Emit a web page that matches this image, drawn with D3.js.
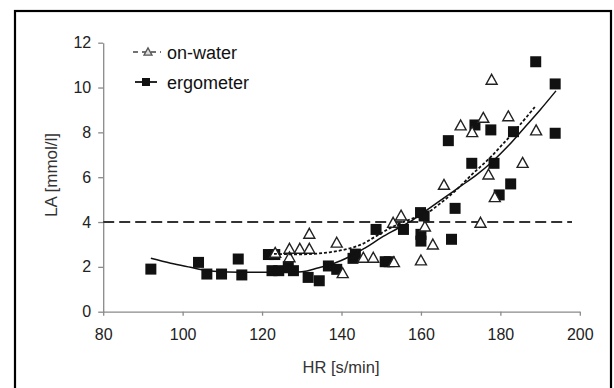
<!DOCTYPE html>
<html>
<head>
<meta charset="utf-8">
<script src="https://cdn.jsdelivr.net/npm/d3@7"></script>
<style>
html,body{margin:0;padding:0;background:#fff;}
svg{display:block;}
text{font-family:"Liberation Sans",Arial,sans-serif;}
</style>
</head>
<body>
<svg id="chart" width="614" height="388"></svg>
<script>
// ---- data ----
const xTicks = [80, 100, 120, 140, 160, 180, 200];
const yTicks = [0, 2, 4, 6, 8, 10, 12];
const threshold = 4;

const ergoHR = [92.0,104.0,106.1,109.8,114.0,114.9,121.6,123.2,122.5,124.2,126.6,127.9,131.6,134.4,136.7,138.8,142.9,143.5,148.7,151.0,152.0,155.6,159.9,160.8,160.0,160.0,166.9,167.7,168.6,172.8,173.6,177.6,178.4,179.7,182.6,183.3,188.9,193.8,193.8];
const ergoLA = [1.90,2.20,1.68,1.68,2.35,1.64,2.55,2.55,1.83,1.83,2.01,1.83,1.53,1.38,2.04,1.89,2.38,2.57,3.67,2.23,2.23,3.67,4.42,4.27,3.45,3.15,7.63,3.23,4.61,6.62,8.33,8.11,6.62,5.21,5.70,8.03,11.15,10.16,7.96];

const waterHR = [123.3,126.9,126.9,129.5,131.9,131.9,138.8,140.3,145.5,148.0,153.0,153.2,155.0,160.0,161.0,163.0,165.8,170.0,172.9,175.0,175.7,177.0,177.8,178.6,182.0,185.6,189.0];
const waterLA = [2.65,2.83,2.45,2.83,2.83,3.50,3.10,1.74,2.43,2.43,3.99,2.23,4.31,2.31,3.82,3.02,5.68,8.33,8.03,3.99,8.67,6.14,10.37,5.13,8.74,6.66,8.11];

// trend lines
const ergoFitHR = [92,97,102,106,110,120,130,134,138,142,146,150,154,158,162,166,170,174,178,182,186,190,194];
const ergoFitLA = [2.38,2.16,1.98,1.84,1.78,1.76,1.78,1.95,2.15,2.45,2.85,3.3,3.7,4.1,4.6,5.1,5.6,6.1,6.7,7.4,8.2,9.0,9.85];
const waterFitHR = [123,128,133,137,141,145,149,153,157,161,165,169,173,177,181,185,189];
const waterFitLA = [2.58,2.56,2.58,2.65,2.78,3.0,3.4,3.8,4.1,4.35,4.85,5.45,6.15,6.8,7.55,8.35,9.2];

const seriesNames = ["on-water", "ergometer"];
const xTitle = "HR [s/min]";
const yTitle = "LA [mmol/l]";

// ---- drawing ----
const svg = d3.select("#chart");
const x = d3.scaleLinear().domain([80, 200]).range([103.2, 579.8]);
const y = d3.scaleLinear().domain([0, 12]).range([311.7, 42.7]);

// frame
svg.append("rect").attr("x", 15).attr("y", 11).attr("width", 596).attr("height", 400)
  .attr("fill", "none").attr("stroke", "#000").attr("stroke-width", 2.2);

// axes
const axisColor = "#8a8a8a";
const gx = svg.append("g").attr("transform", `translate(0,${y(0)})`)
  .call(d3.axisBottom(x).tickValues(xTicks).tickSize(4).tickSizeOuter(0).tickPadding(13).tickFormat(d3.format("d")));
const gy = svg.append("g").attr("transform", `translate(${x(80)},0)`)
  .call(d3.axisLeft(y).tickValues(yTicks).tickSize(5).tickSizeOuter(0).tickPadding(7).tickFormat(d3.format("d")));
[gx, gy].forEach(g => {
  g.select(".domain").attr("stroke", axisColor).attr("stroke-width", 1.3);
  g.selectAll(".tick line").attr("stroke", axisColor).attr("stroke-width", 1.3);
  g.selectAll(".tick text").attr("fill", "#222").style("font-size", "16px").attr("font-family", null);
});

// axis titles
svg.append("text").attr("x", 341).attr("y", 373).attr("text-anchor", "middle")
  .attr("fill", "#333").style("font-size", "16.5px").text(xTitle);
svg.append("text").attr("transform", "translate(57,175) rotate(-90)").attr("text-anchor", "middle")
  .attr("fill", "#333").style("font-size", "17px").text(yTitle);

// threshold line
svg.append("line").attr("x1", x(80)).attr("x2", 572).attr("y1", y(threshold)).attr("y2", y(threshold))
  .attr("stroke", "#333").attr("stroke-width", 2).attr("stroke-dasharray", "11,5");

// markers
const sq = 11;
svg.append("g").selectAll("rect").data(d3.range(ergoHR.length)).join("rect")
  .attr("x", i => x(ergoHR[i]) - sq / 2).attr("y", i => y(ergoLA[i]) - sq / 2)
  .attr("width", sq).attr("height", sq).attr("fill", "#111");

const tri = (cx, cy, s) => {
  const h = s * 0.9;
  return `M${cx},${cy - h / 2}L${cx + s / 2},${cy + h / 2}L${cx - s / 2},${cy + h / 2}Z`;
};
svg.append("g").selectAll("path").data(d3.range(waterHR.length)).join("path")
  .attr("d", i => tri(x(waterHR[i]), y(waterLA[i]), 11))
  .attr("fill", "#fff").attr("stroke", "#222").attr("stroke-width", 1.4);

// trend lines
const line = d3.line().curve(d3.curveCatmullRom.alpha(0.5));
svg.append("path")
  .attr("d", line(ergoFitHR.map((h, i) => [x(h), y(ergoFitLA[i])])))
  .attr("fill", "none").attr("stroke", "#111").attr("stroke-width", 1.5);
svg.append("path")
  .attr("d", line(waterFitHR.map((h, i) => [x(h), y(waterFitLA[i])])))
  .attr("fill", "none").attr("stroke", "#111").attr("stroke-width", 1.8).attr("stroke-dasharray", "3,2");

// legend
const lg = svg.append("g");
lg.append("line").attr("x1", 133).attr("x2", 161).attr("y1", 52).attr("y2", 52)
  .attr("stroke", "#444").attr("stroke-width", 1.5).attr("stroke-dasharray", "5,4");
lg.append("path").attr("d", tri(148, 51.5, 8)).attr("fill", "#ddd").attr("stroke", "#555").attr("stroke-width", 1.3);
lg.append("text").attr("x", 167).attr("y", 58.5).attr("fill", "#111").style("font-size", "18px").text(seriesNames[0]);
lg.append("line").attr("x1", 135).attr("x2", 157).attr("y1", 82).attr("y2", 82)
  .attr("stroke", "#111").attr("stroke-width", 1.8);
lg.append("rect").attr("x", 142).attr("y", 78).attr("width", 8).attr("height", 8).attr("fill", "#111");
lg.append("text").attr("x", 167).attr("y", 88.5).attr("fill", "#111").style("font-size", "18px").text(seriesNames[1]);
</script>
</body>
</html>
